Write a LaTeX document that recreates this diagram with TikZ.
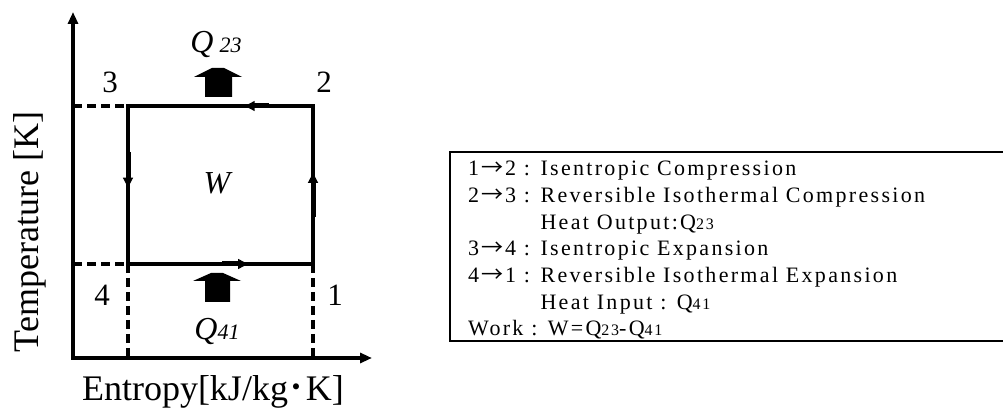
\documentclass[tikz,border=0pt]{standalone}
\usepackage{fontspec}
\setmainfont{Liberation Serif}
\newfontfamily\cjk{Noto Sans CJK JP}
\newfontfamily\legendfont[LetterSpace=10.5]{Liberation Serif}
\usetikzlibrary{arrows.meta,positioning,calc}
\tikzset{
  tsaxis/.style={line width=3.4pt, -{Triangle[length=12pt,width=10pt]}},
  tscycle/.style={line width=3.2pt, line join=miter},
  tsdash/.style={line width=3.2pt, dash pattern=on 9pt off 5pt},
  tsflow/.style={line width=5pt, -{Latex[length=12pt,width=11pt]}},
  tsheat/.style={fill=black},
  tsstate/.style={font=\fontsize{31}{31}\selectfont, inner sep=0pt},
  tsheatlabel/.style={font=\fontsize{32}{32}\selectfont\itshape, inner sep=0pt},
  tsaxislabel/.style={font=\fontsize{36}{36}\selectfont, inner sep=0pt},
  tslegend/.style={font=\legendfont\fontsize{22}{26.7}\selectfont, align=left, inner sep=0pt, anchor=north west},
  tsbox/.style={line width=2pt}
}
\newcommand{\legendsub}[1]{{\fontsize{16}{16}\selectfont #1}}
\newcommand{\legendto}{\makebox[26pt]{\cjk →}}

\begin{document}
\begin{tikzpicture}[x=1pt, y=1pt]
\clip (0,0) rectangle (1003,412);
\coordinate (orig) at (73,54);
\coordinate (ytop) at (73,400);
\coordinate (xend) at (372,54);
\coordinate (s1) at (313,148);
\coordinate (s2) at (313,306);
\coordinate (s3) at (128,306);
\coordinate (s4) at (128,148);
\coordinate (t3) at (73,306);
\coordinate (t4) at (73,148);
\coordinate (b4) at (128,54);
\coordinate (b1) at (313,54);

\draw[tsaxis] ($(orig)+(0,-1.7)$) -- (ytop);
\draw[tsaxis] ($(orig)+(-1.7,0)$) -- (xend);
\draw[tsdash] (t3) -- (s3);
\draw[tsdash] (t4) -- (s4);
\draw[tsdash] (s4) -- (b4);
\draw[tsdash] (s1) -- (b1);
\draw[tscycle] (s1) -- (s2) -- (s3) -- (s4) -- cycle;

\draw[tsflow] ($(s1)!0.30!(s2)$) -- ($(s1)!0.59!(s2)$);
\draw[tsflow] ($(s2)!0.24!(s3)$) -- ($(s2)!0.38!(s3)$);
\draw[tsflow] ($(s3)!0.29!(s4)$) -- ($(s3)!0.53!(s4)$);
\draw[tsflow] ($(s4)!0.51!(s1)$) -- ($(s4)!0.66!(s1)$);

\fill[tsheat] (205,315) -- (205,335) -- (194,335) -- (212,344) -- (224,344) -- (242,335) -- (232,335) -- (232,315) -- cycle;
\fill[tsheat] (205,110) -- (205,131) -- (193,131) -- (211,139) -- (223,139) -- (241,131) -- (230,131) -- (230,110) -- cycle;

\node[tsstate] (n3) at (110,330) {3};
\node[tsstate] (n2) at (324,330) {2};
\node[tsstate] (n4) at (102,117) {4};
\node[tsstate] (n1) at (335,117) {1};
\node[tsheatlabel] (q23) at (216,367) {Q\hspace{6pt}{\fontsize{22}{22}\selectfont 23}};
\node[tsheatlabel] (q41) at (217,80) {Q{\fontsize{22}{22}\selectfont 41}};
\node[tsheatlabel] (work) at (217,229) {W};

\node[tsaxislabel, rotate=90] (tlabel) at (30,180) {Temperature [K]};
\node[tsaxislabel] (slabel) at (213,20) {Entropy[kJ/kg{\cjk ･}K]};

\draw[tsbox] (1010,260) -| (450,71) -- (1010,71);
\node[tslegend] (legend) at (468,251) {1\legendto2 : Isentropic Compression\\
2\legendto3 : Reversible Isothermal Compression\\
\hphantom{2\legendto3 : }Heat Output:Q\legendsub{23}\\
3\legendto4 : Isentropic Expansion\\
4\legendto1 : Reversible Isothermal Expansion\\
\hphantom{4\legendto1 : }Heat Input : Q\legendsub{41}\\
Work : W=Q\legendsub{23}-Q\legendsub{41}};
\end{tikzpicture}
\end{document}
